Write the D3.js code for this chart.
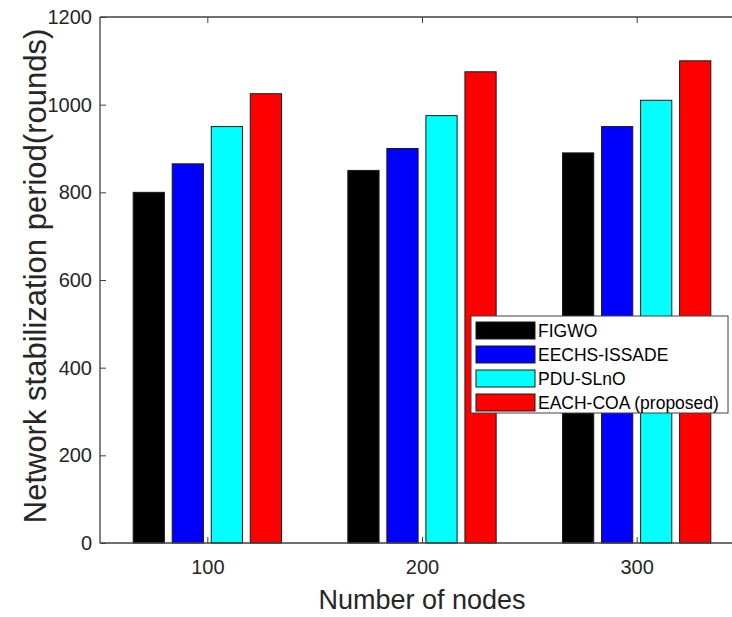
<!DOCTYPE html>
<html>
<head>
<meta charset="utf-8">
<script src="https://cdn.jsdelivr.net/npm/d3@7"></script>
<style>
  html, body { margin: 0; padding: 0; background: #fff; }
  svg { display: block; font-family: Arial, "Liberation Sans", Helvetica, sans-serif; }
</style>
</head>
<body>
<svg id="chart" width="732" height="617"></svg>
<script>
// ---- data ----
const categories = ["100", "200", "300"];
const seriesNames = ["FIGWO", "EECHS-ISSADE", "PDU-SLnO", "EACH-COA (proposed)"];
const seriesColors = ["#000000", "#0000ff", "#00ffff", "#ff0000"];
const FIGWO = [800, 850, 890];
const EECHS_ISSADE = [865, 900, 950];
const PDU_SLnO = [950, 975, 1010];
const EACH_COA = [1025, 1075, 1100];
const seriesValues = [FIGWO, EECHS_ISSADE, PDU_SLnO, EACH_COA];
const yTicks = [0, 200, 400, 600, 800, 1000, 1200];

// ---- layout ----
const svg = d3.select("#chart");
const pLeft = 100, pRight = 744, pTop = 17, pBottom = 543;
const axisColor = "#404040";

const x = d3.scaleLinear().domain([0.5, 3.5]).range([pLeft, pRight]);
const y = d3.scaleLinear().domain([0, 1200]).range([pBottom, pTop]);

const nS = seriesNames.length;
const groupWidth = Math.min(0.8, nS / (nS + 1.5));
const slot = groupWidth / nS;
const barW = slot * 0.8;

// bars
seriesValues.forEach((vals, si) => {
  svg.append("g").selectAll("rect")
    .data(vals)
    .join("rect")
    .attr("x", (d, i) => x(i + 1 + (si - (nS - 1) / 2) * slot - barW / 2))
    .attr("width", x(barW) - x(0))
    .attr("y", d => y(d))
    .attr("height", d => y(0) - y(d))
    .attr("fill", seriesColors[si])
    .attr("stroke", "#1a1a1a")
    .attr("stroke-width", 1);
});

// axes frame
const frame = svg.append("g").attr("fill", "none").attr("stroke", axisColor).attr("stroke-width", 1.3);
frame.append("line").attr("x1", pLeft).attr("x2", pRight).attr("y1", pBottom).attr("y2", pBottom);
frame.append("line").attr("x1", pLeft).attr("x2", pRight).attr("y1", pTop).attr("y2", pTop);
frame.append("line").attr("x1", pLeft).attr("x2", pLeft).attr("y1", pTop).attr("y2", pBottom);
frame.append("line").attr("x1", pRight).attr("x2", pRight).attr("y1", pTop).attr("y2", pBottom);

// y axis ticks (inward) + labels
const yAxis = d3.axisLeft(y).tickValues(yTicks).tickSize(-6).tickPadding(8).tickFormat(d3.format("d"));
const gy = svg.append("g").attr("transform", `translate(${pLeft},0)`).call(yAxis);
gy.select(".domain").remove();
gy.selectAll(".tick line").attr("stroke", axisColor);
gy.selectAll(".tick text").attr("fill", "#262626").attr("font-size", "20px")
  .attr("font-family", "Arial, 'Liberation Sans', sans-serif");

// right side ticks (mirrored)
svg.append("g").attr("transform", `translate(${pRight},0)`)
  .call(d3.axisRight(y).tickValues(yTicks).tickSize(-6).tickFormat(""))
  .call(g => g.select(".domain").remove())
  .selectAll(".tick line").attr("stroke", axisColor);

// x axis ticks (inward) + labels
const xAxis = d3.axisBottom(x).tickValues([1, 2, 3]).tickSize(-6).tickPadding(17)
  .tickFormat((d) => categories[d - 1]);
const gx = svg.append("g").attr("transform", `translate(0,${pBottom})`).call(xAxis);
gx.select(".domain").remove();
gx.selectAll(".tick line").attr("stroke", axisColor);
gx.selectAll(".tick text").attr("fill", "#262626").attr("font-size", "20px")
  .attr("font-family", "Arial, 'Liberation Sans', sans-serif");

// top ticks (mirrored)
svg.append("g").attr("transform", `translate(0,${pTop})`)
  .call(d3.axisTop(x).tickValues([1, 2, 3]).tickSize(-6).tickFormat(""))
  .call(g => g.select(".domain").remove())
  .selectAll(".tick line").attr("stroke", axisColor);

// axis titles
svg.append("text")
  .attr("x", (pLeft + pRight) / 2).attr("y", 609)
  .attr("text-anchor", "middle")
  .attr("font-size", "27px").attr("fill", "#262626")
  .text("Number of nodes");

svg.append("text")
  .attr("transform", `translate(46,276) rotate(-90)`)
  .attr("text-anchor", "middle")
  .attr("font-size", "31px").attr("fill", "#262626")
  .text("Network stabilization period(rounds)");

// legend
const lgX = 471, lgY = 316, lgW = 257, lgH = 97, rowH = 24;
const lg = svg.append("g");
lg.append("rect").attr("x", lgX).attr("y", lgY).attr("width", lgW).attr("height", lgH)
  .attr("fill", "#fff").attr("stroke", axisColor).attr("stroke-width", 1);
seriesNames.forEach((name, i) => {
  const ry = lgY + 6 + i * rowH;
  lg.append("rect").attr("x", lgX + 5).attr("y", ry).attr("width", 59).attr("height", 17)
    .attr("fill", seriesColors[i]).attr("stroke", "#1a1a1a").attr("stroke-width", 1);
  lg.append("text").attr("x", lgX + 67).attr("y", ry + 15)
    .attr("font-size", "17.5px").attr("fill", "#000").text(name);
});
</script>
</body>
</html>
